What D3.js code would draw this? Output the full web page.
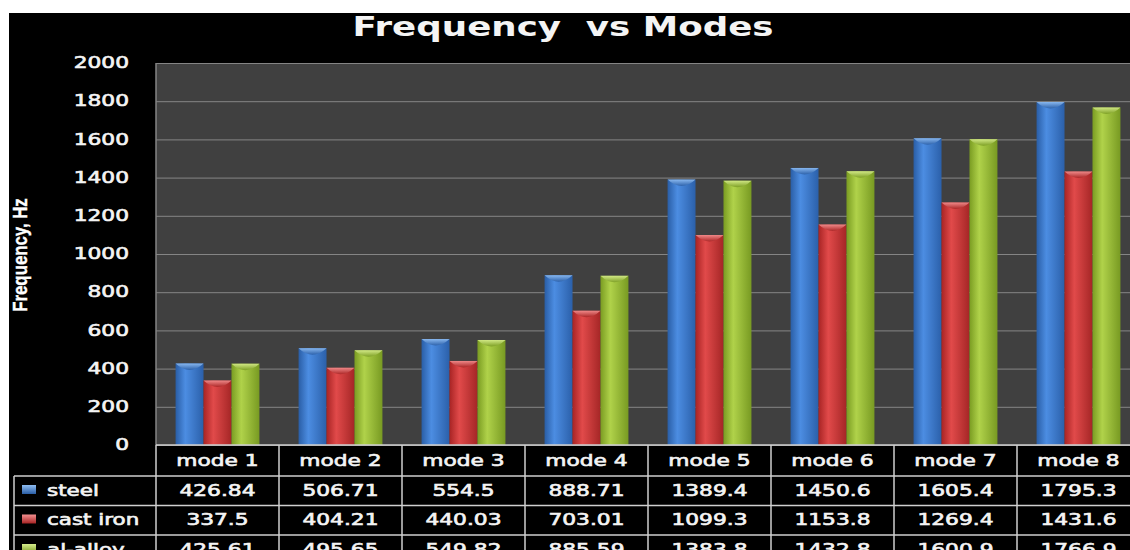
<!DOCTYPE html>
<html>
<head>
<meta charset="utf-8">
<script src="https://cdn.jsdelivr.net/npm/d3@7.9.0/dist/d3.min.js"></script>
<style>
  html, body { margin: 0; padding: 0; background: #fff; overflow: hidden; }
  svg { display: block; }
</style>
</head>
<body>
<div id="chart"></div>
<script>
const modes = ["mode 1", "mode 2", "mode 3", "mode 4", "mode 5", "mode 6", "mode 7", "mode 8"];
const steel = [426.84, 506.71, 554.5, 888.71, 1389.4, 1450.6, 1605.4, 1795.3];
const castIron = [337.5, 404.21, 440.03, 703.01, 1099.3, 1153.8, 1269.4, 1431.6];
const alAlloy = [425.61, 495.65, 549.82, 885.59, 1383.8, 1432.8, 1600.9, 1766.9];
const seriesNames = ["steel", "cast iron", "al-alloy"];
const yTicks = [0, 200, 400, 600, 800, 1000, 1200, 1400, 1600, 1800, 2000];

const series = [
  { name: seriesNames[0], values: steel, id: "blue", c: ["#2a5ea6", "#4c8de2", "#2b60aa"], cap: "#8fbdf2" },
  { name: seriesNames[1], values: castIron, id: "red", c: ["#a82424", "#e14a4a", "#a52626"], cap: "#f39090" },
  { name: seriesNames[2], values: alAlloy, id: "green", c: ["#7a9c22", "#b0d24a", "#789a22"], cap: "#d6ec8c" }
];

const width = 1130, height = 550;
const plot = { left: 156, top: 63, bottom: 445, right: 1140 };
const sx = 1.45; // horizontal stretch of the text in the original
const font = "'DejaVu Sans', sans-serif";

const svg = d3.select("#chart").append("svg")
  .attr("width", width).attr("height", height);

const defs = svg.append("defs");
series.forEach(s => {
  const g = defs.append("linearGradient").attr("id", "g-" + s.id)
    .attr("x1", "0%").attr("x2", "100%").attr("y1", "0%").attr("y2", "0%");
  g.append("stop").attr("offset", "0%").attr("stop-color", s.c[0]);
  g.append("stop").attr("offset", "35%").attr("stop-color", s.c[1]);
  g.append("stop").attr("offset", "100%").attr("stop-color", s.c[2]);
  const v = defs.append("linearGradient").attr("id", "l-" + s.id)
    .attr("x1", "0%").attr("x2", "0%").attr("y1", "0%").attr("y2", "100%");
  v.append("stop").attr("offset", "0%").attr("stop-color", s.cap);
  v.append("stop").attr("offset", "100%").attr("stop-color", s.c[0]);
});

// black chart background
svg.append("rect").attr("x", 9).attr("y", 13)
  .attr("width", width - 9).attr("height", height - 13).attr("fill", "#000");

// helper for stretched text
function stext(parent, x, y, str, opts) {
  const t = parent.append("text")
    .attr("transform", `translate(${x},${y}) scale(${opts.sx || sx},1)`)
    .attr("text-anchor", opts.anchor || "middle")
    .attr("font-family", opts.family || font)
    .attr("font-weight", opts.weight || "normal")
    .attr("font-size", opts.size)
    .attr("fill", "#f4f4f4")
    .text(str);
  if (opts.stroke) t.attr("stroke", "#f4f4f4").attr("stroke-width", opts.stroke);
  return t;
}

// title
stext(svg, 563, 36, "Frequency\u00a0\u00a0vs Modes", { size: 27, weight: "bold", sx: 1.32 });

const x0 = d3.scaleBand().domain(modes).range([plot.left, plot.right]).padding(0);
const x1 = d3.scaleBand().domain(seriesNames).range([0, x0.bandwidth()])
  .paddingInner(0).paddingOuter(0.7);
const y = d3.scaleLinear().domain([0, 2000]).range([plot.bottom, plot.top]);

// plot area
svg.append("rect").attr("x", plot.left).attr("y", plot.top)
  .attr("width", plot.right - plot.left).attr("height", plot.bottom - plot.top)
  .attr("fill", "#404040");

// gridlines
svg.append("g")
  .attr("transform", `translate(${plot.left},0)`)
  .call(d3.axisLeft(y).tickValues(yTicks).tickSize(-(plot.right - plot.left)).tickFormat(""))
  .call(g => g.select(".domain").remove())
  .call(g => g.selectAll("line").attr("stroke", "#858585").attr("stroke-width", 1));

svg.append("line").attr("x1", plot.left).attr("x2", plot.left)
  .attr("y1", plot.top).attr("y2", plot.bottom)
  .attr("stroke", "#858585").attr("stroke-width", 1.5);

// y tick labels
const yAxis = svg.append("g");
yTicks.forEach(t => {
  stext(yAxis, 129, y(t), d3.format("d")(t), { size: 15, anchor: "end", stroke: 0.6 })
    .attr("dominant-baseline", "central");
});

// y axis title
svg.append("text")
  .attr("transform", "translate(27,255) rotate(-90) scale(0.8,1)")
  .attr("text-anchor", "middle")
  .attr("font-family", "'Liberation Sans', Arial, sans-serif")
  .attr("font-weight", "bold")
  .attr("font-size", 21)
  .attr("fill", "#fff")
  .attr("stroke", "#fff")
  .attr("stroke-width", 0.4)
  .text("Frequency, Hz");

// bars
const groups = svg.append("g").selectAll("g")
  .data(modes)
  .join("g")
  .attr("transform", d => `translate(${x0(d)},0)`);

groups.each(function (m, i) {
  const g = d3.select(this);
  series.forEach(s => {
    const bx = x1(s.name), bw = x1.bandwidth();
    const by = y(s.values[i]);
    g.append("rect")
      .attr("x", bx).attr("y", by)
      .attr("width", bw).attr("height", plot.bottom - by)
      .attr("fill", `url(#g-${s.id})`);
    g.append("path")
      .attr("d", `M${bx},${by} L${bx + bw},${by} Q${bx + bw / 2},${by + 13} ${bx},${by} Z`)
      .attr("fill", `url(#l-${s.id})`)
      .attr("opacity", 0.9);
  });
});

// data table
const rowH = 29.5;
const headTop = plot.bottom, headBottom = 476;
const rowTops = series.map((s, i) => headBottom + i * rowH);
const table = svg.append("g");
const lineColor = "#cfcfcf";

// horizontal lines
table.append("line").attr("x1", plot.left).attr("x2", width)
  .attr("y1", headTop).attr("y2", headTop).attr("stroke", lineColor).attr("stroke-width", 1.5);
[headBottom, ...rowTops.slice(1)].forEach(ly => {
  table.append("line").attr("x1", 14).attr("x2", width)
    .attr("y1", ly).attr("y2", ly).attr("stroke", lineColor).attr("stroke-width", 1.5);
});
// vertical lines
table.append("line").attr("x1", 14).attr("x2", 14)
  .attr("y1", headBottom).attr("y2", height).attr("stroke", lineColor).attr("stroke-width", 1.5);
modes.forEach(m => {
  table.append("line").attr("x1", x0(m)).attr("x2", x0(m))
    .attr("y1", headTop).attr("y2", height).attr("stroke", lineColor).attr("stroke-width", 1.5);
});

// header
modes.forEach(m => {
  stext(table, x0(m) + x0.bandwidth() / 2, 466, m, { size: 15, stroke: 0.6 });
});

// rows (the last row is cut by the bottom edge, as in the original)
series.forEach((s, r) => {
  const top = rowTops[r];
  table.append("rect").attr("x", 22).attr("y", top + 9).attr("width", 14).attr("height", 9)
    .attr("fill", `url(#l-${s.id})`);
  stext(table, 47, top + 19.5, s.name, { size: 15, anchor: "start", sx: 1.43, stroke: 0.6 });
  s.values.forEach((v, i) => {
    stext(table, x0(modes[i]) + x0.bandwidth() / 2, top + 19.5, String(v), { size: 15, stroke: 0.6 });
  });
});
</script>
</body>
</html>
